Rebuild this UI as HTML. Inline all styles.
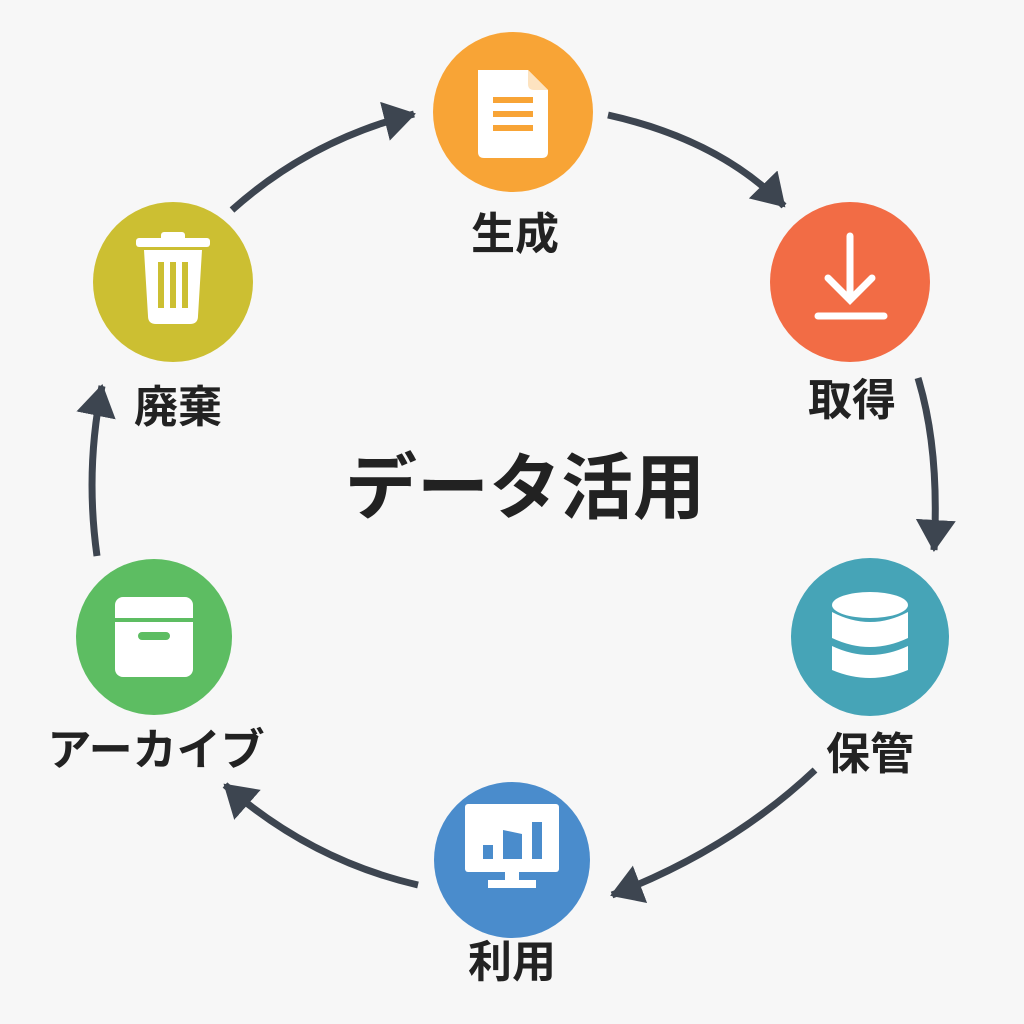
<!DOCTYPE html>
<html><head><meta charset="utf-8"><style>
html,body{margin:0;padding:0;background:#f7f7f7;}
svg{display:block}
text{font-family:"Liberation Sans","Noto Sans CJK JP",sans-serif;font-weight:700;fill:#222;text-anchor:middle}
</style></head><body>
<svg width="1024" height="1024" viewBox="0 0 1024 1024" xmlns="http://www.w3.org/2000/svg">
<defs>
<marker id="ah" markerUnits="userSpaceOnUse" markerWidth="44" markerHeight="44" refX="30" refY="20" orient="auto">
<path d="M0,0 L32,20 L0,40 Z" fill="#3d4550"/>
</marker>
</defs>
<rect width="1024" height="1024" fill="#f7f7f7"/>
<g fill="none" stroke="#3d4550" stroke-width="7" marker-end="url(#ah)">
<path d="M232,210 Q310,140 414,114"/>
<path d="M608,115 Q720,140 784,206"/>
<path d="M918,378 Q940,450 934,550"/>
<path d="M815,770 Q730,850 612,895"/>
<path d="M418,885 Q310,860 225,785"/>
<path d="M97,556 Q85,470 102,386"/>
</g>
<!-- 生成 -->
<circle cx="513" cy="112" r="80" fill="#f8a436"/>
<path d="M478,70 H528 L548,90 V152 Q548,158 542,158 H484 Q478,158 478,152 Z" fill="#fff"/>
<path d="M528,70 V84 Q528,90 534,90 H548 Z" fill="#fde3c0"/>
<rect x="493" y="97" width="40" height="6" fill="#f8a436"/>
<rect x="493" y="111" width="40" height="6" fill="#f8a436"/>
<rect x="493" y="125" width="40" height="6" fill="#f8a436"/>
<text x="515" y="249" font-size="44">生成</text>
<!-- 取得 -->
<circle cx="850" cy="282" r="80" fill="#f26c45"/>
<g stroke="#fff" stroke-width="7" fill="none" stroke-linecap="round">
<path d="M850,236 V298"/><path d="M828,278 L850,300 L872,278"/><path d="M818,316 H884"/>
</g>
<text x="852" y="415" font-size="44">取得</text>
<!-- 保管 -->
<circle cx="870" cy="637" r="79" fill="#46a4b7"/>
<g fill="#fff">
<ellipse cx="870" cy="605" rx="38" ry="13"/>
<path d="M832,612 Q870,632 908,612 V638 Q870,656 832,638 Z"/>
<path d="M832,646 Q870,664 908,646 V670 Q870,686 832,670 Z"/>
</g>
<text x="870" y="769" font-size="44">保管</text>
<!-- 利用 -->
<circle cx="512" cy="860" r="78" fill="#4a8ccc"/>
<rect x="465" y="804" width="94" height="68" rx="3" fill="#fff"/>
<rect x="505" y="872" width="14" height="10" fill="#fff"/>
<rect x="488" y="880" width="48" height="8" fill="#fff"/>
<g fill="#4a8ccc">
<rect x="483" y="845" width="10" height="14"/>
<path d="M503,830 L522,834 V859 H503 Z"/>
<rect x="532" y="822" width="10" height="37"/>
</g>
<text x="512" y="977" font-size="44">利用</text>
<!-- アーカイブ -->
<circle cx="154" cy="637" r="78" fill="#5dbd62"/>
<rect x="115" y="597" width="78" height="80" rx="8" fill="#fff"/>
<rect x="115" y="618" width="78" height="4" fill="#5dbd62"/>
<rect x="138" y="632" width="32" height="8" rx="4" fill="#5dbd62"/>
<text x="156" y="765" font-size="44">アーカイブ</text>
<!-- 廃棄 -->
<circle cx="173" cy="282" r="80" fill="#ccbf32"/>
<g fill="#fff">
<rect x="136" y="238" width="74" height="9" rx="3"/>
<rect x="161" y="232" width="24" height="9" rx="3"/>
<path d="M144,250 H202 L198,316 Q198,324 190,324 H156 Q148,324 148,316 Z"/>
</g>
<g fill="#ccbf32">
<rect x="158" y="262" width="6" height="46"/><rect x="170" y="262" width="6" height="46"/><rect x="182" y="262" width="6" height="46"/>
</g>
<text x="178" y="422" font-size="44">廃棄</text>
<text x="525" y="513" font-size="72">データ活用</text>
</svg>
</body></html>
